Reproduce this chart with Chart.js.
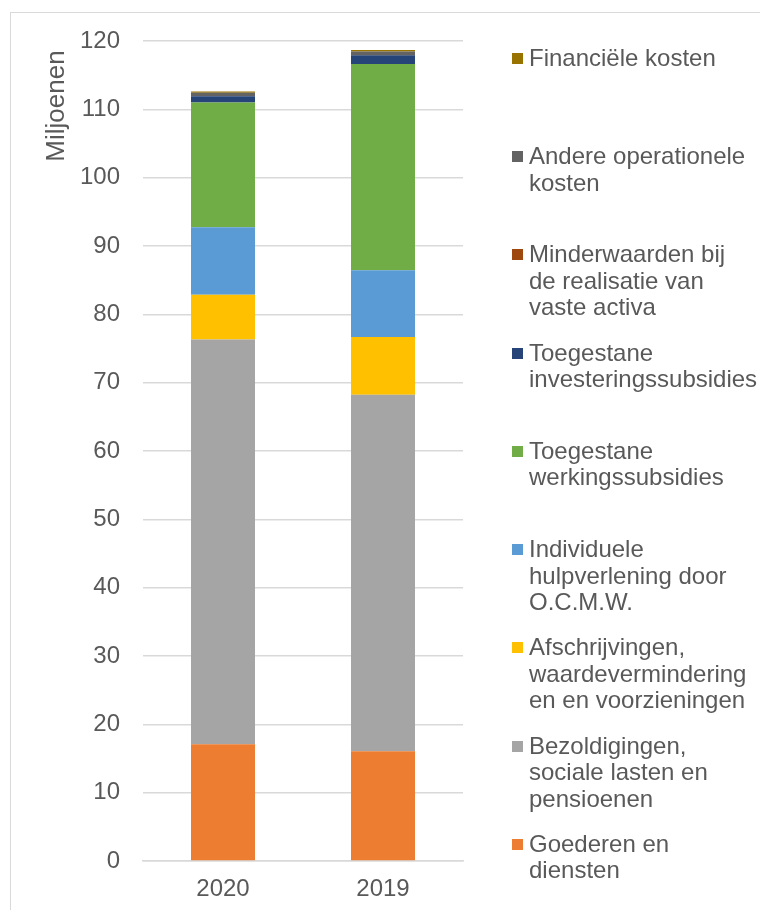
<!DOCTYPE html>
<html>
<head>
<meta charset="utf-8">
<script src="https://cdn.jsdelivr.net/npm/chart.js@4.4.1/dist/chart.umd.min.js"></script>
<style>
  html, body { margin:0; padding:0; background:#fff; }
  #wrap { position:relative; width:760px; height:910px; overflow:hidden; font-family:"Liberation Sans", Arial, sans-serif; }
  #frame { position:absolute; left:10px; top:12px; width:800px; height:950px; border:1px solid #d9d9d9; }
  canvas { position:absolute; left:0; top:0; }
  #legend { position:absolute; left:512px; top:0; width:250px; }
  .item { position:absolute; left:0; display:flex; align-items:flex-start; }
  .mk { width:11px; height:11px; margin-top:8px; flex:0 0 11px; }
  .tx { margin-left:6px; font-size:24px; line-height:26.5px; color:#595959; white-space:nowrap; }
</style>
</head>
<body>
<div id="wrap">
  <div id="frame"></div>
  <canvas id="c" width="760" height="910"></canvas>
  <div id="legend"></div>
</div>
<script>
const categories = ['2020', '2019'];
const goederen = [17.1, 16.05];
const bezoldigingen = [59.2, 52.2];
const afschrijvingen = [6.55, 8.45];
const individuele = [9.9, 9.75];
const werkingssubsidies = [18.25, 30.2];
const investeringssubsidies = [0.9, 1.25];
const minderwaarden = [0.02, 0.05];
const andere = [0.5, 0.5];
const financiele = [0.19, 0.25];
const yTicks = [0, 10, 20, 30, 40, 50, 60, 70, 80, 90, 100, 110, 120];

const series = [
  { label: 'Goederen en diensten', lines: ['Goederen en', 'diensten'], data: goederen, color: '#ED7D31' },
  { label: 'Bezoldigingen, sociale lasten en pensioenen', lines: ['Bezoldigingen,', 'sociale lasten en', 'pensioenen'], data: bezoldigingen, color: '#A5A5A5' },
  { label: 'Afschrijvingen, waardevermindering en en voorzieningen', lines: ['Afschrijvingen,', 'waardevermindering', 'en en voorzieningen'], data: afschrijvingen, color: '#FFC000' },
  { label: 'Individuele hulpverlening door O.C.M.W.', lines: ['Individuele', 'hulpverlening door', 'O.C.M.W.'], data: individuele, color: '#5B9BD5' },
  { label: 'Toegestane werkingssubsidies', lines: ['Toegestane', 'werkingssubsidies'], data: werkingssubsidies, color: '#70AD47' },
  { label: 'Toegestane investeringssubsidies', lines: ['Toegestane', 'investeringssubsidies'], data: investeringssubsidies, color: '#264478' },
  { label: 'Minderwaarden bij de realisatie van vaste activa', lines: ['Minderwaarden bij', 'de realisatie van', 'vaste activa'], data: minderwaarden, color: '#9E480E' },
  { label: 'Andere operationele kosten', lines: ['Andere operationele', 'kosten'], data: andere, color: '#636363' },
  { label: 'Financiële kosten', lines: ['Financiële kosten'], data: financiele, color: '#997300' }
];

const FONT = '"Liberation Sans", Arial, sans-serif';
const TXT = '#595959';

const yTitle = {
  id: 'yTitle',
  afterDraw(chart) {
    const ctx = chart.ctx;
    ctx.save();
    ctx.translate(57, 106);
    ctx.rotate(-Math.PI / 2);
    ctx.font = '26px ' + FONT;
    ctx.fillStyle = TXT;
    ctx.textAlign = 'center';
    ctx.textBaseline = 'middle';
    ctx.fillText('Miljoenen', 0, 0);
    ctx.restore();
  }
};

new Chart(document.getElementById('c'), {
  type: 'bar',
  data: {
    labels: categories,
    datasets: series.map(s => ({
      label: s.label,
      data: s.data,
      backgroundColor: s.color,
      borderWidth: 0,
      categoryPercentage: 0.8,
      barPercentage: 0.5
    }))
  },
  options: {
    responsive: false,
    animation: false,
    devicePixelRatio: 1,
    layout: { padding: { top: 41, right: 297, bottom: 0, left: 0 } },
    plugins: { legend: { display: false }, tooltip: { enabled: false } },
    scales: {
      x: {
        stacked: true,
        grid: { display: false, drawTicks: false },
        border: { display: true, color: '#d9d9d9', width: 1.5 },
        ticks: { color: TXT, font: { family: FONT, size: 24 }, padding: 14 },
        afterFit(scale) { scale.height = 49; }
      },
      y: {
        stacked: true,
        min: 0,
        max: 120,
        afterBuildTicks(scale) { scale.ticks = yTicks.map(v => ({ value: v })); },
        grid: { color: '#d9d9d9', lineWidth: 1.5, drawTicks: false },
        border: { display: false },
        ticks: { color: TXT, font: { family: FONT, size: 24 }, padding: 23 },
        afterFit(scale) { scale.width = 143; }
      }
    }
  },
  plugins: [yTitle]
});

// HTML legend (reverse order, top to bottom)
const legend = document.getElementById('legend');
series.slice().reverse().forEach((s, i) => {
  const item = document.createElement('div');
  item.className = 'item';
  item.style.top = (44.75 + i * 98.25) + 'px';
  const mk = document.createElement('div');
  mk.className = 'mk';
  mk.style.background = s.color;
  const tx = document.createElement('div');
  tx.className = 'tx';
  tx.innerHTML = s.lines.map(l => l.replace(/&/g, '&amp;')).join('<br>');
  item.appendChild(mk);
  item.appendChild(tx);
  legend.appendChild(item);
});
</script>
</body>
</html>
